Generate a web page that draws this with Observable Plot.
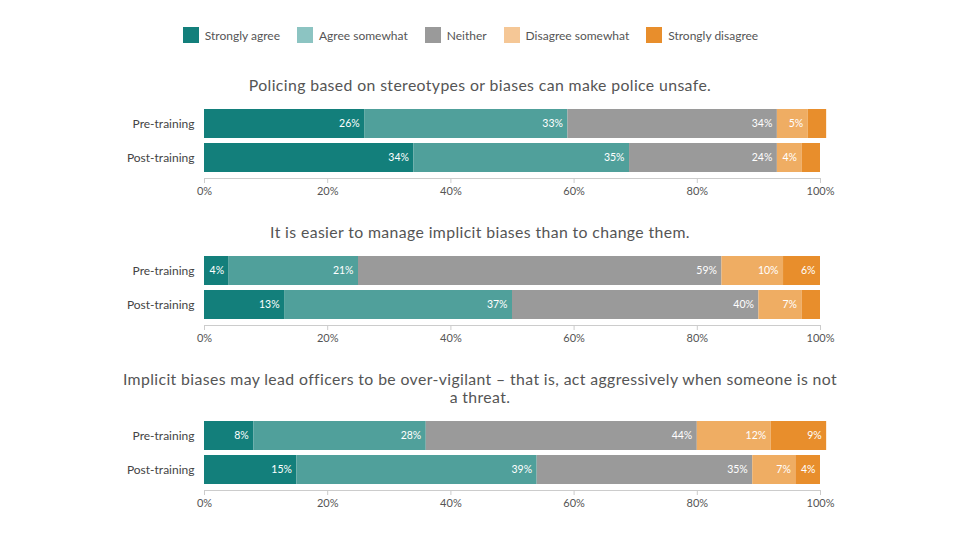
<!DOCTYPE html>
<html>
<head>
<meta charset="utf-8">
<script src="https://cdn.jsdelivr.net/npm/d3@7"></script>
<script src="https://cdn.jsdelivr.net/npm/@observablehq/plot@0.6"></script>
<style>
  html, body { margin: 0; padding: 0; background: #fff; }
  body { width: 960px; height: 538px; position: relative; overflow: hidden; font-family: Lato, "Open Sans", sans-serif; }
  #legend { position: absolute; top: 27px; left: 0; width: 941px; display: flex; justify-content: center; font-size: 12px; color: #555; }
  .item { display: flex; align-items: center; margin: 0 8.5px; }
  .sw { width: 16px; height: 16px; margin-right: 6px; }
  .title { position: absolute; left: 0; width: 960px; text-align: center; font-size: 15.8px; color: #555; letter-spacing: 0.38px; line-height: 18px; white-space: nowrap; }
  .chart { position: absolute; left: 0; }
</style>
</head>
<body>
<div id="legend"></div>
<script>
const categories = ["Strongly agree", "Agree somewhat", "Neither", "Disagree somewhat", "Strongly disagree"];
const groups = ["Pre-training", "Post-training"];
const questions = [
  "Policing based on stereotypes or biases can make police unsafe.",
  "It is easier to manage implicit biases than to change them.",
  "Implicit biases may lead officers to be over-vigilant – that is, act aggressively when someone is not\na threat."
];
const q1Pre = [26, 33, 34, 5, 3];
const q1Post = [34, 35, 24, 4, 3];
const q2Pre = [4, 21, 59, 10, 6];
const q2Post = [13, 37, 40, 7, 3];
const q3Pre = [8, 28, 44, 12, 9];
const q3Post = [15, 39, 35, 7, 4];
const xTicks = [0, 20, 40, 60, 80, 100];

const barColors = ["#137f7b", "#50a09b", "#9a9a9a", "#efad63", "#e88e2c"];
const legendColors = ["#137f7b", "#8cc4c2", "#9a9a9a", "#f5c796", "#e88e2c"];

const series = [[q1Pre, q1Post], [q2Pre, q2Post], [q3Pre, q3Post]];

// legend
const legend = document.getElementById("legend");
categories.forEach((c, i) => {
  const it = document.createElement("div");
  it.className = "item";
  it.innerHTML = `<div class="sw" style="background:${legendColors[i]}"></div><span>${c}</span>`;
  legend.appendChild(it);
});

const titleTops = [76, 223, 370];
const chartTops = [100, 247, 412];

series.forEach((pair, qi) => {
  const t = document.createElement("div");
  t.className = "title";
  t.style.top = titleTops[qi] + "px";
  t.innerHTML = questions[qi].split("\n").join("<br>");
  document.body.appendChild(t);

  const rows = [];
  pair.forEach((vals, gi) => vals.forEach((v, ci) => rows.push({group: groups[gi], cat: categories[ci], value: v})));

  const chart = Plot.plot({
    width: 960,
    height: 102,
    marginLeft: 204,
    marginRight: 140,
    marginTop: 9,
    marginBottom: 24,
    insetBottom: 5.5,
    style: {fontFamily: "Lato, 'Open Sans', sans-serif", fontSize: "11px", color: "#555", background: "#fff", overflow: "visible"},
    x: {domain: [0, 100], ticks: xTicks, tickFormat: d => d + "%", label: null},
    y: {domain: groups, paddingInner: 0.16, paddingOuter: 0, label: null},
    color: {domain: categories, range: barColors},
    marks: [
      Plot.barX(rows, Plot.stackX({x: "value", y: "group", fill: "cat", order: categories})),
      Plot.text(rows, Plot.stackX2({x: "value", y: "group", z: "cat", order: categories,
        text: d => d.value > 3 ? d.value + "%" : "", textAnchor: "end", dx: -5, fill: "white", fontSize: 10.5})),
      Plot.frame({anchor: "bottom", stroke: "#ccc"}),
      Plot.axisX({ticks: xTicks, tickFormat: d => d + "%", tickSize: 5, stroke: "#ccc", fill: "#555", fontSize: 11, label: null}),
      Plot.axisY({tickSize: 0, tickPadding: 10, fontSize: 12, fill: "#444", label: null})
    ]
  });
  chart.classList.add("chart");
  chart.style.top = chartTops[qi] + "px";
  document.body.appendChild(chart);
});
</script>
</body>
</html>
